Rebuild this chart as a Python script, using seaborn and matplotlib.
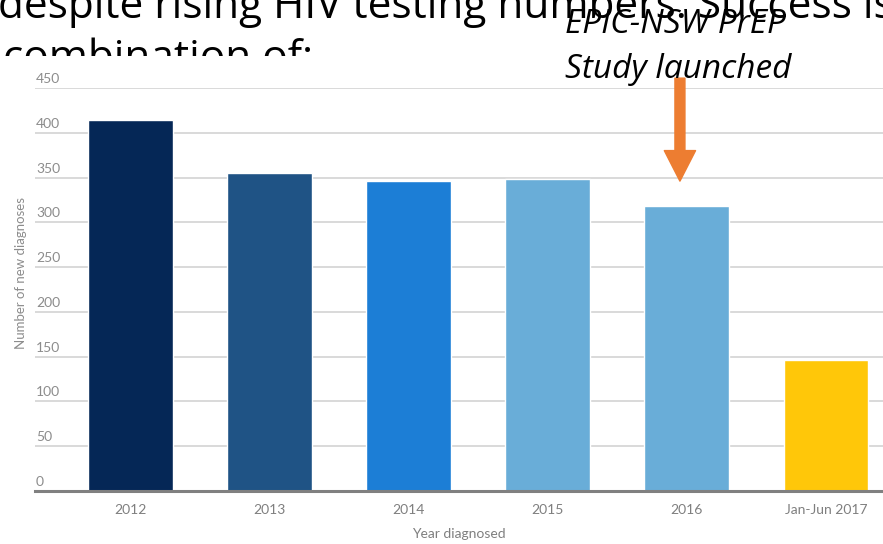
import matplotlib
matplotlib.use("Agg")
import matplotlib.pyplot as plt
import matplotlib.transforms as mtransforms
import seaborn as sns
import pandas as pd

categories = ["2012", "2013", "2014", "2015", "2016", "Jan-Jun 2017"]
diagnoses = [414, 355, 346, 348, 318, 146]
bar_colors = ["#052756", "#1F5385", "#1C7ED6", "#69ADD8", "#69ADD8", "#FFC709"]
y_ticks = [0, 50, 100, 150, 200, 250, 300, 350, 400, 450]
arrow_category_pos = 3.95
arrow_tip_value = 346
arrow_tail_value = 461

df = pd.DataFrame({"year": categories, "count": diagnoses})

sns.set_theme(style="white")
plt.rcParams["font.family"] = ["Lato", "DejaVu Sans"]

W, H = 883, 544
fig = plt.figure(figsize=(W / 100, H / 100), dpi=100)
fig.patch.set_facecolor("white")

# slide title text, cropped by the pasted chart image
title_clip = mtransforms.TransformedBbox(mtransforms.Bbox([[0, 1 - 56 / H], [1, 1]]), fig.transFigure)
t1 = fig.text(-2 / W, 1 - 18 / H, "despite rising HIV testing numbers. Success is",
              fontsize=30.5, family=["Open Sans", "DejaVu Sans"], color="black", va="baseline", ha="left")
t2 = fig.text(3 / W, 1 - 70 / H, "combination of:",
              fontsize=30.5, family=["Open Sans", "DejaVu Sans"], color="black", va="baseline", ha="left")
t2.set_clip_box(title_clip)
t2.set_clip_on(True)

ax = fig.add_axes([35 / W, 53 / H, 848 / W, 403 / H])
ax.set_facecolor("white")
sns.barplot(data=df, x="year", y="count", hue="year", palette=bar_colors,
            width=0.61, legend=False, ax=ax, saturation=1, zorder=3)

ax.set_xlim(-0.687, 5.41)
ax.set_ylim(0, 450)
ax.set_yticks(y_ticks)
ax.yaxis.grid(True, color="#D3D3D3", linewidth=1.2, zorder=0)
ax.set_axisbelow(True)
ax.tick_params(axis="y", left=False, labelleft=False)
ax.tick_params(axis="x", bottom=False, labelsize=10, labelcolor="#7F7F7F", pad=3)

for s in ["top", "right", "left"]:
    ax.spines[s].set_visible(False)
ax.spines["bottom"].set_color("#808080")
ax.spines["bottom"].set_linewidth(2.2)
ax.spines["bottom"].set_zorder(5)

off = mtransforms.offset_copy(ax.get_yaxis_transform(), fig=fig, x=1, y=5, units="dots")
for v in y_ticks:
    ax.text(0, v, str(v), transform=off, ha="left", va="baseline",
            fontsize=10, color="#8C8C8C", clip_on=False)

ax.set_xlabel("Year diagnosed", fontsize=10, color="#7F7F7F", labelpad=9)
ax.set_ylabel("Number of new diagnoses", fontsize=9.5, color="#8C8C8C")
ax.yaxis.set_label_coords(-0.0094, 0.54)

# orange arrow pointing at 2016
ax.annotate("", xy=(arrow_category_pos, arrow_tip_value), xytext=(arrow_category_pos, arrow_tail_value),
            xycoords="data", textcoords="data", annotation_clip=False,
            arrowprops=dict(facecolor="#ED7D31", edgecolor="#ED7D31", width=7.2,
                            headwidth=22.5, headlength=22, shrink=0), zorder=6)

fig.text(565 / W, 1 - 33 / H, "EPIC-NSW PrEP", fontsize=24, style="italic",
         family=["Open Sans", "DejaVu Sans"], color="black", va="baseline", ha="left")
fig.text(565 / W, 1 - 78 / H, "Study launched", fontsize=24, style="italic",
         family=["Open Sans", "DejaVu Sans"], color="black", va="baseline", ha="left")

fig.savefig("out.png", dpi=100, facecolor="white")
